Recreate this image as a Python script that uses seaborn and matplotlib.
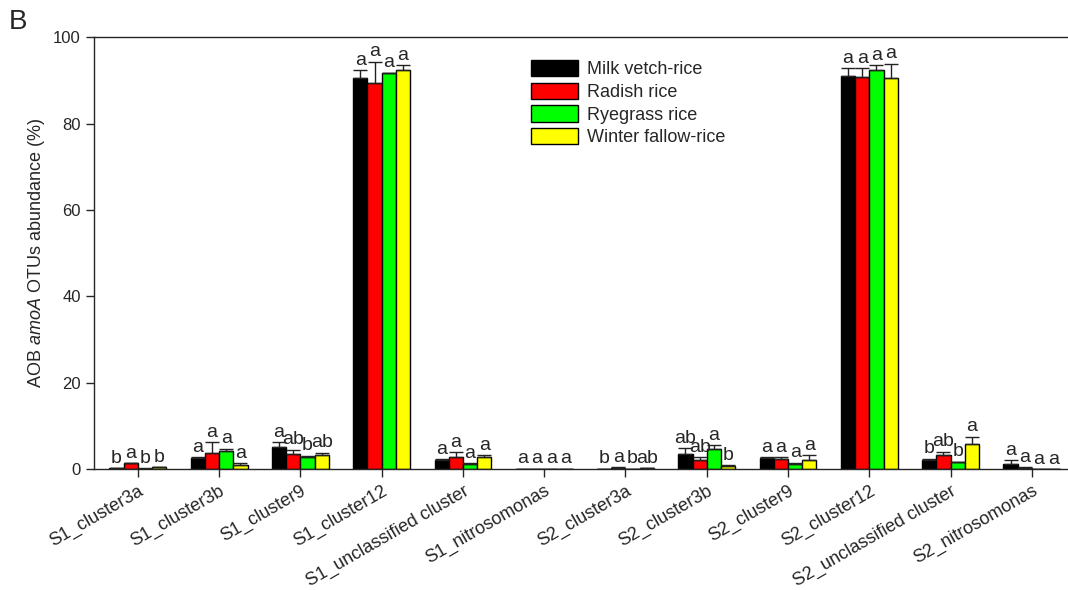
import numpy as np
import pandas as pd
import seaborn as sns
import matplotlib.pyplot as plt

categories = ["S1_cluster3a", "S1_cluster3b", "S1_cluster9", "S1_cluster12",
              "S1_unclassified cluster", "S1_nitrosomonas", "S2_cluster3a",
              "S2_cluster3b", "S2_cluster9", "S2_cluster12",
              "S2_unclassified cluster", "S2_nitrosomonas"]
treatments = ["Milk vetch-rice", "Radish rice", "Ryegrass rice", "Winter fallow-rice"]

milk = [0.2, 2.6, 5.0, 90.6, 2.1, 0.05, 0.05, 3.6, 2.6, 91.0, 2.2, 1.2]
milk_err = [0.05, 0.1, 1.2, 1.8, 0.2, 0.02, 0.02, 1.3, 0.2, 1.9, 0.2, 0.9]
radish = [1.3, 3.7, 3.4, 89.4, 2.7, 0.05, 0.3, 2.2, 2.3, 90.8, 3.2, 0.3]
radish_err = [0.1, 2.5, 1.1, 4.9, 1.2, 0.02, 0.1, 0.5, 0.5, 2.0, 0.8, 0.1]
rye = [0.1, 4.2, 2.7, 91.6, 1.2, 0.1, 0.05, 4.6, 1.1, 92.4, 1.6, 0.02]
rye_err = [0.05, 0.5, 0.4, 0.2, 0.1, 0.02, 0.02, 1.0, 0.4, 1.2, 0.1, 0.01]
winter = [0.4, 1.0, 3.2, 92.5, 2.7, 0.05, 0.2, 0.8, 2.1, 90.6, 5.7, 0.02]
winter_err = [0.1, 0.3, 0.6, 1.0, 0.5, 0.02, 0.05, 0.1, 1.1, 3.3, 1.8, 0.01]

letters_milk = ["b", "a", "a", "a", "a", "a", "b", "ab", "a", "a", "b", "a"]
letters_radish = ["a", "a", "ab", "a", "a", "a", "a", "ab", "a", "a", "ab", "a"]
letters_rye = ["b", "a", "b", "a", "a", "a", "b", "a", "a", "a", "b", "a"]
letters_winter = ["b", "a", "ab", "a", "a", "a", "ab", "b", "a", "a", "a", "a"]

colors = ["#000000", "#ff0000", "#00ff00", "#ffff00"]

sns.set_style("ticks")
plt.rcParams['font.family'] = ['Liberation Sans', 'DejaVu Sans']
plt.rcParams['mathtext.fontset'] = 'custom'
plt.rcParams['mathtext.it'] = 'Liberation Sans:italic'
plt.rcParams['mathtext.rm'] = 'Liberation Sans'

values = [milk, radish, rye, winter]
errors = [milk_err, radish_err, rye_err, winter_err]
letters = [letters_milk, letters_radish, letters_rye, letters_winter]

df = pd.DataFrame({
    "cluster": np.tile(categories, 4),
    "treatment": np.repeat(treatments, len(categories)),
    "value": np.concatenate(values),
})

fig = plt.figure(figsize=(10.68, 5.90), dpi=100)
ax = fig.add_axes([0.088, 0.205, 0.92, 0.732])

sns.barplot(data=df, x="cluster", y="value", hue="treatment", order=categories,
            hue_order=treatments, palette=colors, saturation=1, width=0.7,
            errorbar=None, edgecolor="black", linewidth=1.0, ax=ax)

# error bars (upper only) and significance letters, per hue container
bar_groups = list(ax.containers)
for k, cont in enumerate(bar_groups):
    for i, bar in enumerate(cont.patches):
        xc = bar.get_x() + bar.get_width() / 2
        h = bar.get_height()
        e = errors[k][i]
        ax.errorbar(xc, h, yerr=[[0], [e]], fmt="none", ecolor="#222222",
                    elinewidth=1.0, capsize=5, capthick=1.0, zorder=3)
        ax.text(xc, h + e + 0.3, letters[k][i], ha="center", va="bottom",
                fontsize=14)

ax.set_ylim(0, 100)
ax.set_xlim(-0.54, 11.55)
ax.set_yticks([0, 20, 40, 60, 80, 100])
ax.tick_params(axis="both", labelsize=12, direction="out", length=6, width=1)
ax.set_xticks(range(len(categories)))
ax.set_xticklabels(categories, rotation=30, ha="right", rotation_mode="anchor",
                   fontsize=13)
ax.set_xlabel("")
ax.set_ylabel(r"AOB $\it{amoA}$ OTUs abundance (%)", fontsize=13)
for s in ax.spines.values():
    s.set_linewidth(1.0)
ax.spines["right"].set_visible(False)

leg = ax.legend(loc="upper left", bbox_to_anchor=(0.428, 0.985), frameon=False,
                fontsize=13, handlelength=2.6, handleheight=1.0,
                labelspacing=0.25, handletextpad=0.5)

fig.text(0.008, 0.985, "B", fontsize=20, va="top", ha="left")

fig.savefig("out.png", dpi=100)
